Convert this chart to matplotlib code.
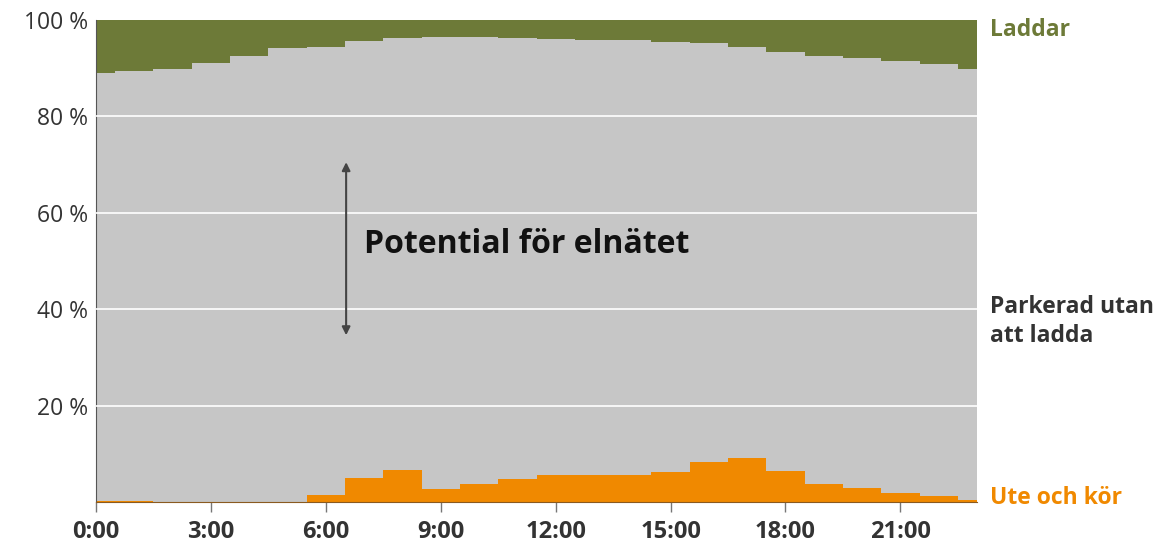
import numpy as np
import matplotlib
matplotlib.use('Agg')
import matplotlib.pyplot as plt

plt.rcParams['font.family'] = ['Open Sans', 'DejaVu Sans']

hours = np.arange(24)
# share of cars (%) per hour
ute_och_kor = [0.3, 0.2, 0.1, 0.1, 0.1, 0.1, 1.5, 5.0, 6.6, 2.7, 3.8, 4.8,
               5.5, 5.5, 5.5, 6.3, 8.4, 9.2, 6.5, 3.8, 2.9, 1.9, 1.2, 0.4]
laddar = [10.9, 10.6, 10.2, 8.9, 7.4, 5.9, 5.5, 4.4, 3.8, 3.5, 3.5, 3.7,
          3.9, 4.1, 4.2, 4.6, 4.8, 5.7, 6.6, 7.5, 7.9, 8.6, 9.2, 10.2]
parkerad = [100 - a - b for a, b in zip(ute_och_kor, laddar)]

xtick_pos = [0, 3, 6, 9, 12, 15, 18, 21]
xtick_labels = ['0:00', '3:00', '6:00', '9:00', '12:00', '15:00', '18:00', '21:00']
ytick_pos = [20, 40, 60, 80, 100]
ytick_labels = ['20 %', '40 %', '60 %', '80 %', '100 %']

c_orange = '#f08900'
c_gray = '#c6c6c6'
c_olive = '#6d7a38'
c_text = '#333333'

fig = plt.figure(figsize=(11.68, 5.43), dpi=100)
ax = fig.add_axes([96/1168, 41/543, 881/1168, 482/543])

ute = np.array(ute_och_kor)
park = np.array(parkerad)
ladd = np.array(laddar)
ax.fill_between(hours, 0, ute, step='mid', color=c_orange, lw=0)
ax.fill_between(hours, ute, ute + park, step='mid', color=c_gray, lw=0)
ax.fill_between(hours, ute + park, ute + park + ladd, step='mid', color=c_olive, lw=0)

for y in [20, 40, 60, 80]:
    ax.axhline(y, color='white', lw=1.2, zorder=3)

ax.set_xlim(0, 23)
ax.set_ylim(0, 100)
ax.set_xticks(xtick_pos)
ax.set_xticklabels(xtick_labels, fontsize=17, fontweight='bold', color=c_text)
ax.set_yticks(ytick_pos)
ax.set_yticklabels(ytick_labels, fontsize=16.5, color=c_text)
ax.tick_params(axis='x', length=7, width=1, color='#777777', pad=6)
ax.tick_params(axis='y', length=0, pad=6)
for s in ['top', 'right']:
    ax.spines[s].set_visible(False)
ax.spines['left'].set_color('#555555')
ax.spines['bottom'].set_color('#8a5a20')
ax.spines['bottom'].set_zorder(4)

# arrow and annotation
ax.annotate('', xy=(6.53, 70.5), xytext=(6.53, 34.6),
            arrowprops=dict(arrowstyle='<|-|>', color='#444444', lw=1.5,
                            mutation_scale=12, shrinkA=0, shrinkB=0), zorder=5)
ax.text(7.0, 53.5, 'Potential för elnätet', fontsize=23, fontweight='bold',
        color='#111111', va='center', ha='left', zorder=5)

# right-side labels
ax.text(1.015, 0.979, 'Laddar', transform=ax.transAxes, fontsize=16.5,
        fontweight='bold', color=c_olive, va='center', ha='left')
ax.text(1.015, 0.375, 'Parkerad utan\natt ladda', transform=ax.transAxes, fontsize=16.5,
        fontweight='bold', color=c_text, va='center', ha='left', linespacing=1.3)
ax.text(1.015, 0.008, 'Ute och kör', transform=ax.transAxes, fontsize=16.5,
        fontweight='bold', color=c_orange, va='center', ha='left')

fig.savefig('out.png', dpi=100)
